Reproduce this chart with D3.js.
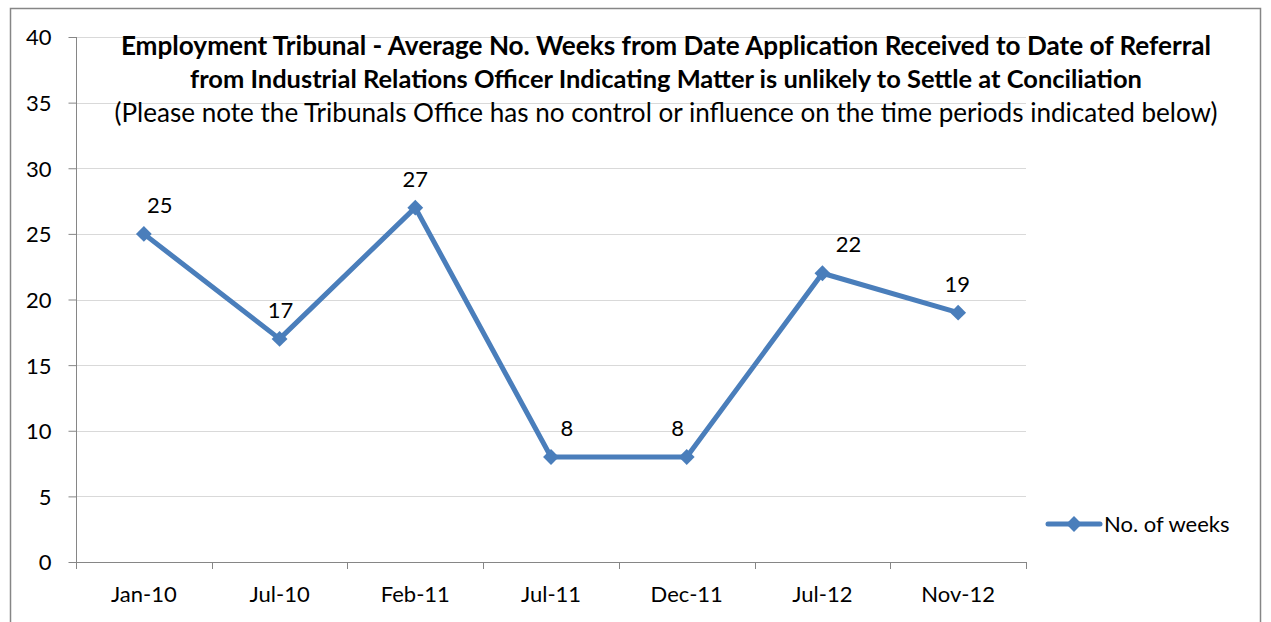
<!DOCTYPE html>
<html>
<head>
<meta charset="utf-8">
<script src="https://cdn.jsdelivr.net/npm/d3@7"></script>
<style>
  body { margin: 0; background: #fff; }
  svg text { font-family: Lato, "Liberation Sans", sans-serif; fill: #000; }
</style>
</head>
<body>
<div class="chart"></div>
<script>
const periods = ["Jan-10", "Jul-10", "Feb-11", "Jul-11", "Dec-11", "Jul-12", "Nov-12"];
const weeks = [25, 17, 27, 8, 8, 22, 19];
const yTicks = [0, 5, 10, 15, 20, 25, 30, 35, 40];
const seriesName = "No. of weeks";
const titleLines = [
  "Employment Tribunal - Average No. Weeks from Date Application Received to Date of Referral",
  "from Industrial Relations Officer Indicating Matter is unlikely to Settle at Conciliation",
  "(Please note the Tribunals Office has no control or influence on the time periods indicated below)"
];
// label nudges (layout only, as placed in the original)
const labelNudge = [16, 1, 0, 16, -9, 26, -1];

const width = 1271, height = 622;
const blue = "#4a7ebb";
const fs = "22px";

const svg = d3.select(".chart")
  .append("svg")
  .attr("width", width)
  .attr("height", height);

// outer frame
svg.append("rect")
  .attr("x", 10.5).attr("y", 8.5)
  .attr("width", 1250).attr("height", 640)
  .attr("fill", "none")
  .attr("stroke", "#868686")
  .attr("stroke-width", 1.5);

const plot = { left: 76, right: 1026, top: 37, bottom: 562 };

const x = d3.scaleBand()
  .domain(periods)
  .range([plot.left, plot.right]);

const y = d3.scaleLinear()
  .domain([0, 40])
  .range([plot.bottom, plot.top]);

// gridlines
svg.append("g")
  .selectAll("line")
  .data(yTicks.filter(d => d > 0))
  .enter()
  .append("line")
  .attr("x1", plot.left).attr("x2", plot.right)
  .attr("y1", d => Math.round(y(d)) + 0.5)
  .attr("y2", d => Math.round(y(d)) + 0.5)
  .attr("stroke", "#d9d9d9")
  .attr("stroke-width", 1);

// y axis
const yAxis = svg.append("g")
  .attr("transform", `translate(${plot.left + 0.5},0)`)
  .call(d3.axisLeft(y).tickValues(yTicks).tickSize(8).tickPadding(17));
yAxis.selectAll("path, line").attr("stroke", "#868686");
yAxis.select(".domain").attr("d", `M0,${plot.top}V${plot.bottom}`);
yAxis.selectAll("text").style("font-size", fs).attr("dy", "0.36em");

// x axis
const xAxis = svg.append("g")
  .attr("transform", `translate(0,${plot.bottom + 0.5})`)
  .call(d3.axisBottom(x).tickSize(0).tickPadding(24));
xAxis.select(".domain").attr("stroke", "#868686").attr("d", `M${plot.left},0H${plot.right}`);
xAxis.selectAll("text").style("font-size", fs);
const boundaries = periods.map(p => x(p)).concat([plot.right]);
svg.append("g")
  .selectAll("line")
  .data(boundaries)
  .enter()
  .append("line")
  .attr("x1", d => Math.round(d) + 0.5).attr("x2", d => Math.round(d) + 0.5)
  .attr("y1", plot.bottom).attr("y2", plot.bottom + 7)
  .attr("stroke", "#868686");

const cx = d => x(d) + x.bandwidth() / 2;

// line
const line = d3.line()
  .x((d, i) => cx(periods[i]))
  .y(d => y(d));

svg.append("path")
  .datum(weeks)
  .attr("d", line)
  .attr("fill", "none")
  .attr("stroke", blue)
  .attr("stroke-width", 5)
  .attr("stroke-linejoin", "round");

const diamond = d3.symbol().type(d3.symbolDiamond2).size(160);

svg.append("g")
  .selectAll("path")
  .data(weeks)
  .enter()
  .append("path")
  .attr("d", diamond)
  .attr("transform", (d, i) => `translate(${cx(periods[i])},${y(d)})`)
  .attr("fill", blue);

// data labels
svg.append("g")
  .selectAll("text")
  .data(weeks)
  .enter()
  .append("text")
  .attr("x", (d, i) => cx(periods[i]) + labelNudge[i])
  .attr("y", d => y(d) - 21)
  .attr("text-anchor", "middle")
  .style("font-size", fs)
  .text(d => d);

// title (fit to the original line widths)
const titleTargets = [
  { cy: 55, w: 1091, bold: true },
  { cy: 88, w: 952, bold: true },
  { cy: 122, w: 1103, bold: false }
];
titleLines.forEach((t, i) => {
  const spec = titleTargets[i];
  const txt = svg.append("text")
    .attr("x", 666)
    .attr("y", spec.cy)
    .attr("text-anchor", "middle")
    .style("font-weight", spec.bold ? "bold" : "normal")
    .style("font-size", "20px")
    .text(t);
  const w = txt.node().getComputedTextLength();
  txt.style("font-size", (20 * spec.w / w).toFixed(2) + "px");
});

// legend
const lg = svg.append("g").attr("transform", "translate(1048,524)");
lg.append("line")
  .attr("x1", 0).attr("x2", 52)
  .attr("stroke", blue).attr("stroke-width", 5)
  .attr("stroke-linecap", "round");
lg.append("path")
  .attr("d", diamond)
  .attr("transform", "translate(26,0)")
  .attr("fill", blue);
lg.append("text")
  .attr("x", 56).attr("y", 8)
  .style("font-size", fs)
  .text(seriesName);
</script>
</body>
</html>
